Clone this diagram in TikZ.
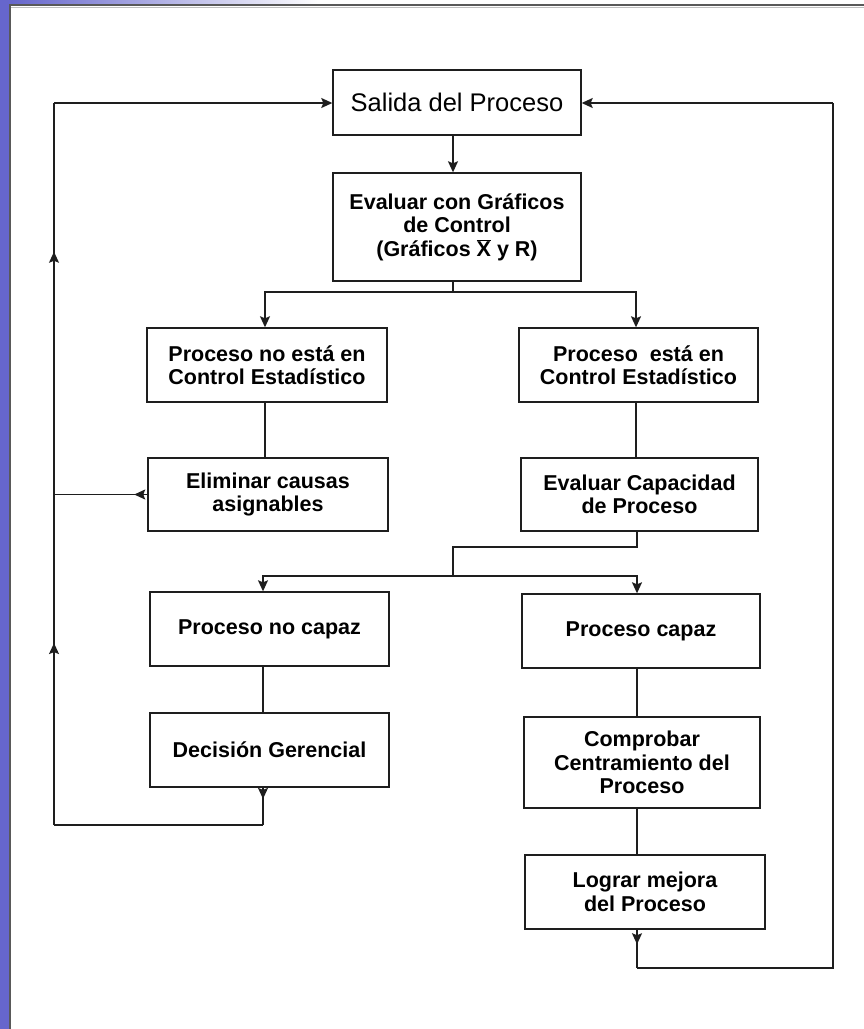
\documentclass[tikz,border=0pt]{standalone}
\usepackage{fontspec}
\setmainfont{Liberation Sans}
\usetikzlibrary{arrows.meta,decorations.markings}
\definecolor{frame}{RGB}{102,102,204}
\definecolor{ink}{RGB}{30,30,30}
\begin{document}
\begin{tikzpicture}[x=1pt,y=-1pt,
  box/.style={draw=ink, line width=1.4pt, inner sep=0pt, align=center, fill=white,
    font=\fontsize{21.5}{23.5}\selectfont\bfseries},
  conn/.style={draw=ink, line width=1.4pt},
  arr/.style={-{Stealth[length=11pt,width=10pt,inset=2pt]}},
  tipat/.style={postaction={decorate,decoration={markings,
    mark=at position #1 with {\arrow{Stealth[length=11pt,width=10pt,inset=2pt]}}}}}]
% page and frame
\useasboundingbox (0,0) rectangle (864,1029);
\fill[white] (0,0) rectangle (864,1029);
\fill[frame] (0,0) rectangle (9,1029);
\shade[left color=frame,right color=white] (9,0) rectangle (320,4);
\draw[gray!70!black, line width=2pt] (9,5) -- (864,5);
\draw[gray!50, line width=1pt] (9,7) -- (864,7);
\draw[gray!70!black, line width=1.5pt] (9.75,5) -- (9.75,1029);
% nodes
\node[box, minimum width=248pt, minimum height=65pt,
  font=\fontsize{25.5}{28}\selectfont] (salida) at (457,102.5) {Salida del Proceso};
\node[box, minimum width=248pt, minimum height=108pt] (evaluar) at (457,227)
  {Evaluar con Gráficos\\de Control\\(Gráficos \ensuremath{\overline{\hbox{X}}} y R)};
\node[box, minimum width=240pt, minimum height=74pt] (noctrl) at (267,365)
  {Proceso no está en\\Control Estadístico};
\node[box, minimum width=239pt, minimum height=74pt] (ctrl) at (638.5,365)
  {Proceso \ está en\\Control Estadístico};
\node[box, minimum width=240pt, minimum height=73pt] (elim) at (268,494.5)
  {Eliminar causas\\asignables};
\node[box, minimum width=237pt, minimum height=73pt] (evalcap) at (639.5,494.5)
  {Evaluar Capacidad\\de Proceso};
\node[box, minimum width=239pt, minimum height=74pt] (nocapaz) at (269.5,629)
  {Proceso no capaz};
\node[box, minimum width=238pt, minimum height=74pt] (capaz) at (641,631)
  {Proceso capaz};
\node[box, minimum width=239pt, minimum height=74pt] (decision) at (269.5,750)
  {Decisión Gerencial};
\node[box, minimum width=236pt, minimum height=91pt] (comprobar) at (642,762.5)
  {Comprobar\\Centramiento del\\Proceso};
\node[box, minimum width=240pt, minimum height=74pt] (lograr) at (645,892)
  {Lograr mejora\\del Proceso};
% coordinates
\coordinate (sp1) at (453,292);
\coordinate (sp1l) at (265,292);
\coordinate (sp1r) at (636,292);
\coordinate (bend) at (637,547);
\coordinate (bend2) at (453,547);
\coordinate (sp2) at (453,576);
\coordinate (sp2l) at (263,576);
\coordinate (sp2r) at (637,576);
\coordinate (lb) at (263,825);
\coordinate (ll) at (54,825);
\coordinate (lt) at (54,103);
\coordinate (le) at (54,494.5);
\coordinate (rb) at (637,968);
\coordinate (rr) at (833,968);
\coordinate (rt) at (833,103);
% connectors
\draw[conn,arr] (salida.south -| sp1) -- (evaluar.north -| sp1);
\draw[conn] (evaluar.south -| sp1) -- (sp1);
\draw[conn,arr] (sp1) -- (sp1l) -- (noctrl.north -| sp1l);
\draw[conn,arr] (sp1) -- (sp1r) -- (ctrl.north -| sp1r);
\draw[conn] (noctrl.south -| sp1l) -- (elim.north -| sp1l);
\draw[conn] (ctrl.south -| sp1r) -- (evalcap.north -| sp1r);
\draw[conn] (evalcap.south -| bend) -- (bend) -- (bend2) -- (sp2);
\draw[conn,arr] (sp2) -- (sp2l) -- (nocapaz.north -| sp2l);
\draw[conn,arr] (sp2) -- (sp2r) -- (capaz.north -| sp2r);
\draw[conn] (nocapaz.south -| sp2l) -- (decision.north -| sp2l);
\draw[conn] (capaz.south -| sp2r) -- (comprobar.north -| sp2r);
\draw[conn] (comprobar.south -| sp2r) -- (lograr.north -| sp2r);
% left feedback loop
\draw[conn,tipat=0.3] (decision.south -| lb) -- (lb);
\draw[conn] (lb) -- (ll);
\draw[conn,tipat=0.252,tipat=0.794] (ll) -- (lt);
\draw[conn,arr] (lt) -- (salida.west |- lt);
\draw[conn,tipat=0.14] (elim.west) -- (le);
% right feedback loop
\draw[conn,tipat=0.38] (lograr.south -| rb) -- (rb);
\draw[conn] (rb) -- (rr) -- (rt);
\draw[conn,arr] (rt) -- (salida.east |- rt);
\end{tikzpicture}
\end{document}
